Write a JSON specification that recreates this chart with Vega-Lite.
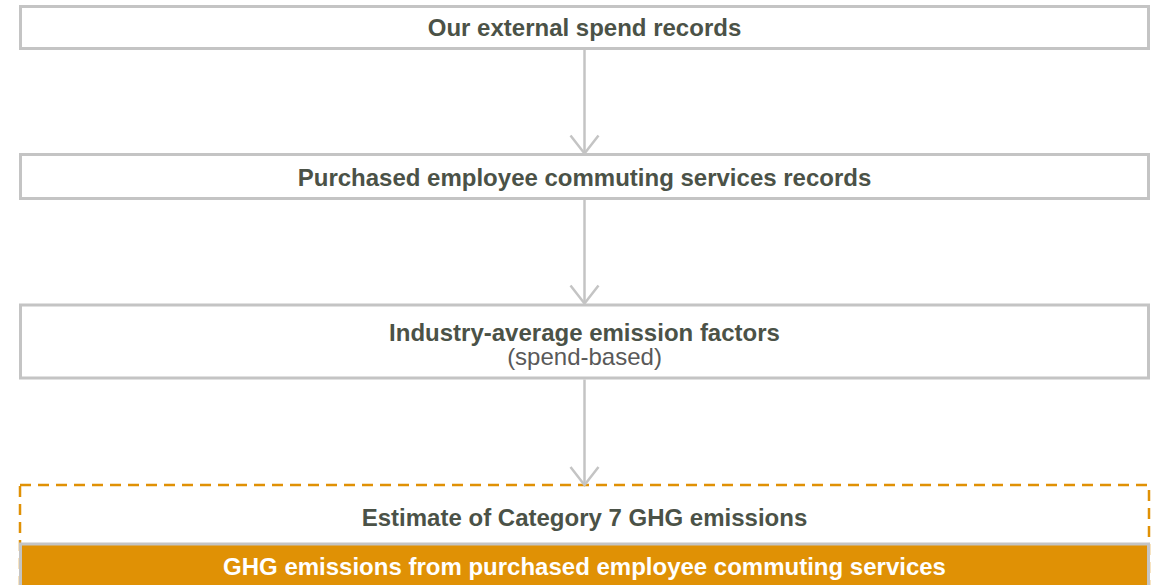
{
  "$schema": "https://vega.github.io/schema/vega-lite/v6.json",
  "width": 1155,
  "height": 585,
  "padding": 0,
  "autosize": "none",
  "background": "white",
  "config": {"view": {"stroke": null}},
  "datasets": {
    "boxes": [
      {"name": "Our external spend records", "x1": 20.5, "x2": 1148.5, "y1": 6.5, "y2": 48.5},
      {"name": "Purchased employee commuting services records", "x1": 20.5, "x2": 1148.5, "y1": 154.5, "y2": 198.5},
      {"name": "Industry-average emission factors", "x1": 20.5, "x2": 1148.5, "y1": 305, "y2": 378}
    ],
    "dashed": [{"name": "Estimate of Category 7 GHG emissions", "x1": 20, "x2": 1149, "y1": 485, "y2": 640}],
    "result": [{"name": "GHG emissions from purchased employee commuting services", "x1": 20.5, "x2": 1148.5, "y1": 544, "y2": 640}],
    "shafts": [
      {"id": 1, "x": 584.5, "y1": 50, "y2": 153},
      {"id": 2, "x": 584.5, "y1": 200, "y2": 303},
      {"id": 3, "x": 584.5, "y1": 379.5, "y2": 484}
    ],
    "heads": [
      {"id": 1, "o": 1, "x": 570.5, "y": 135.5}, {"id": 1, "o": 2, "x": 584.5, "y": 153.5}, {"id": 1, "o": 3, "x": 598.5, "y": 135.5},
      {"id": 2, "o": 1, "x": 570.5, "y": 285.5}, {"id": 2, "o": 2, "x": 584.5, "y": 303.5}, {"id": 2, "o": 3, "x": 598.5, "y": 285.5},
      {"id": 3, "o": 1, "x": 570.5, "y": 467}, {"id": 3, "o": 2, "x": 584.5, "y": 485}, {"id": 3, "o": 3, "x": 598.5, "y": 467}
    ],
    "boldText": [
      {"label": "Our external spend records", "x": 584.5, "y": 29},
      {"label": "Purchased employee commuting services records", "x": 584.5, "y": 179},
      {"label": "Industry-average emission factors", "x": 584.5, "y": 333.5},
      {"label": "Estimate of Category 7 GHG emissions", "x": 584.5, "y": 519}
    ],
    "plainText": [{"label": "(spend-based)", "x": 584.5, "y": 358}],
    "whiteText": [{"label": "GHG emissions from purchased employee commuting services", "x": 584.5, "y": 568}]
  },
  "layer": [
    {
      "data": {"name": "dashed"},
      "mark": {"type": "rect", "fill": null, "fillOpacity": 0, "stroke": "#e09105", "strokeWidth": 2.5, "strokeDash": [11, 7], "clip": true},
      "encoding": {
        "x": {"field": "x1", "type": "quantitative", "scale": {"domain": [0, 1155], "nice": false, "zero": false}, "axis": null},
        "x2": {"field": "x2"},
        "y": {"field": "y1", "type": "quantitative", "scale": {"domain": [0, 585], "reverse": true, "nice": false, "zero": false}, "axis": null},
        "y2": {"field": "y2"}
      }
    },
    {
      "data": {"name": "boxes"},
      "mark": {"type": "rect", "fill": "white", "stroke": "#c4c4c4", "strokeWidth": 3},
      "encoding": {
        "x": {"field": "x1", "type": "quantitative"},
        "x2": {"field": "x2"},
        "y": {"field": "y1", "type": "quantitative"},
        "y2": {"field": "y2"}
      }
    },
    {
      "data": {"name": "result"},
      "mark": {"type": "rect", "fill": "#e09105", "stroke": "#c4c4c4", "strokeWidth": 3, "clip": true},
      "encoding": {
        "x": {"field": "x1", "type": "quantitative"},
        "x2": {"field": "x2"},
        "y": {"field": "y1", "type": "quantitative"},
        "y2": {"field": "y2"}
      }
    },
    {
      "data": {"name": "shafts"},
      "mark": {"type": "rule", "stroke": "#c4c4c4", "strokeWidth": 2.5},
      "encoding": {
        "x": {"field": "x", "type": "quantitative"},
        "y": {"field": "y1", "type": "quantitative"},
        "y2": {"field": "y2"}
      }
    },
    {
      "data": {"name": "heads"},
      "mark": {"type": "line", "stroke": "#c4c4c4", "strokeWidth": 2.5},
      "encoding": {
        "x": {"field": "x", "type": "quantitative"},
        "y": {"field": "y", "type": "quantitative"},
        "detail": {"field": "id"},
        "order": {"field": "o"}
      }
    },
    {
      "data": {"name": "boldText"},
      "mark": {"type": "text", "font": "Liberation Sans", "fontSize": 24, "fontWeight": "bold", "fill": "#4b5247", "baseline": "middle", "align": "center"},
      "encoding": {
        "x": {"field": "x", "type": "quantitative"},
        "y": {"field": "y", "type": "quantitative"},
        "text": {"field": "label"}
      }
    },
    {
      "data": {"name": "plainText"},
      "mark": {"type": "text", "font": "Liberation Sans", "fontSize": 24, "fill": "#595959", "baseline": "middle", "align": "center"},
      "encoding": {
        "x": {"field": "x", "type": "quantitative"},
        "y": {"field": "y", "type": "quantitative"},
        "text": {"field": "label"}
      }
    },
    {
      "data": {"name": "whiteText"},
      "mark": {"type": "text", "font": "Liberation Sans", "fontSize": 24, "fontWeight": "bold", "fill": "white", "baseline": "middle", "align": "center"},
      "encoding": {
        "x": {"field": "x", "type": "quantitative"},
        "y": {"field": "y", "type": "quantitative"},
        "text": {"field": "label"}
      }
    }
  ]
}
